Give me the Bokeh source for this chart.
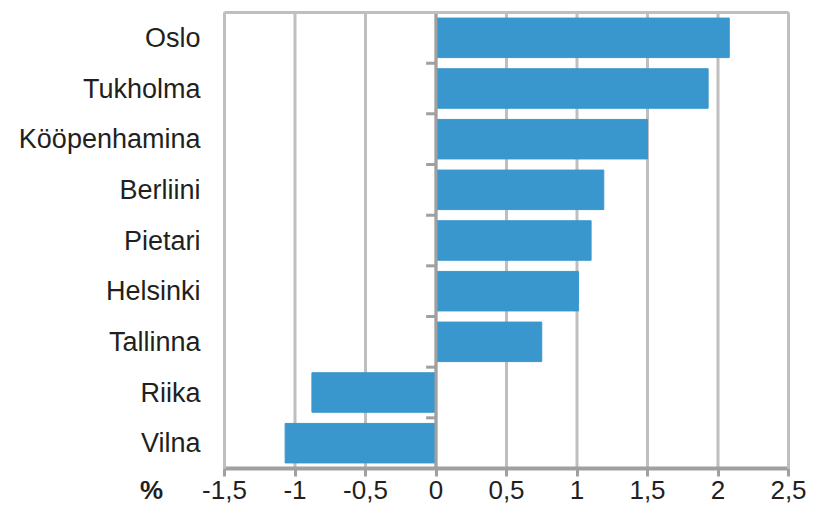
from bokeh.plotting import figure
from bokeh.models import Label, FixedTicker, ColumnDataSource, LinearAxis
from bokeh.embed import file_html
from bokeh.resources import INLINE

# ---- data ----
cities = ["Oslo", "Tukholma", "Kööpenhamina", "Berliini", "Pietari",
          "Helsinki", "Tallinna", "Riika", "Vilna"]
values = [2.08, 1.93, 1.50, 1.19, 1.10, 1.01, 0.75, -0.88, -1.07]
x_ticks = [-1.5, -1.0, -0.5, 0.0, 0.5, 1.0, 1.5, 2.0, 2.5]
x_tick_labels = ["-1,5", "-1", "-0,5", "0", "0,5", "1", "1,5", "2", "2,5"]
unit_label = "%"

# ---- layout constants (pixels) ----
W, H = 808, 506
PX_LEFT, PX_RIGHT = 224, 788      # where x_ticks[0] / x_ticks[-1] sit
PX_TOP, PX_BOTTOM = 12, 468       # top / bottom of category area

n = len(cities)
ypos = [n - 1 - i for i in range(n)]
xmin, xmax = x_ticks[0], x_ticks[-1]
ymin, ymax = -0.5, n - 0.5
kx = (PX_RIGHT - PX_LEFT) / (xmax - xmin)
ky = (PX_BOTTOM - PX_TOP) / (ymax - ymin)
x_range = (xmin - PX_LEFT / kx, xmax + (W - PX_RIGHT) / kx)
y_range = (ymin - (H - PX_BOTTOM) / ky, ymax + PX_TOP / ky)

p = figure(width=W, height=H, output_backend="svg", toolbar_location=None,
           x_range=x_range, y_range=y_range,
           min_border_left=0, min_border_right=0, min_border_top=0,
           min_border_bottom=0, x_axis_location=None, y_axis_location=None)
p.outline_line_color = None
p.grid.visible = False

font = "Liberation Sans"
txt = "#231F20"
light = "#BFBFBF"
dark = "#A0A0A0"

# vertical grid lines
p.segment(x0=x_ticks, x1=x_ticks, y0=[ymin] * len(x_ticks), y1=[ymax] * len(x_ticks),
          line_color=light, line_width=3)

# bars
src = ColumnDataSource(dict(y=ypos, right=values, left=[0] * n))
p.hbar(y="y", left="left", right="right", height=0.78, source=src,
       fill_color="#3A97CD", line_color="#3A97CD", line_width=1)

# zero axis with ticks at category boundaries
p.segment(x0=[0], x1=[0], y0=[ymin], y1=[ymax], line_color=dark, line_width=3)
bounds = [k - 0.5 for k in range(n + 1)]
p.segment(x0=[-0.07] * len(bounds), x1=[0] * len(bounds), y0=bounds, y1=bounds,
          line_color=dark, line_width=3)

# bottom value axis
xa = LinearAxis(fixed_location=ymin, bounds=(xmin, xmax))
xa.ticker = FixedTicker(ticks=x_ticks)
xa.major_label_overrides = {t: l for t, l in zip(x_ticks, x_tick_labels)}
xa.axis_line_color = dark
xa.axis_line_width = 4
xa.major_tick_line_color = dark
xa.major_tick_line_width = 3
xa.major_tick_out = 8
xa.major_tick_in = 0
xa.minor_tick_line_color = None
xa.major_label_text_font = font
xa.major_label_text_font_size = "26px"
xa.major_label_text_color = txt
xa.major_label_standoff = 4
p.add_layout(xa, "below")

# left category axis
ya = LinearAxis(fixed_location=xmin, bounds=(ymin, ymax))
ya.ticker = FixedTicker(ticks=ypos)
ya.major_label_overrides = {y: c for y, c in zip(ypos, cities)}
ya.axis_line_color = light
ya.axis_line_width = 3
ya.major_tick_line_color = None
ya.minor_tick_line_color = None
ya.major_label_text_font = font
ya.major_label_text_font_size = "27px"
ya.major_label_text_color = txt
ya.major_label_standoff = 18
p.add_layout(ya, "left")

# right and top frame borders
ra = LinearAxis(fixed_location=xmax, bounds=(ymin, ymax), ticker=FixedTicker(ticks=[]))
ra.axis_line_color = light
ra.axis_line_width = 3
ra.major_tick_line_color = None
ra.minor_tick_line_color = None
p.add_layout(ra, "right")

ta = LinearAxis(fixed_location=ymax, bounds=(xmin, xmax), ticker=FixedTicker(ticks=[]))
ta.axis_line_color = light
ta.axis_line_width = 3
ta.major_tick_line_color = None
ta.minor_tick_line_color = None
p.add_layout(ta, "above")

# unit label, level with the value-axis tick labels
p.add_layout(Label(x=xmin - 73 / kx, y=ymin - 21 / ky, text=unit_label,
                   text_font=font, text_font_size="26px", text_font_style="bold",
                   text_align="center", text_baseline="middle", text_color=txt))

open("out.html", "w").write(file_html(p, INLINE))
